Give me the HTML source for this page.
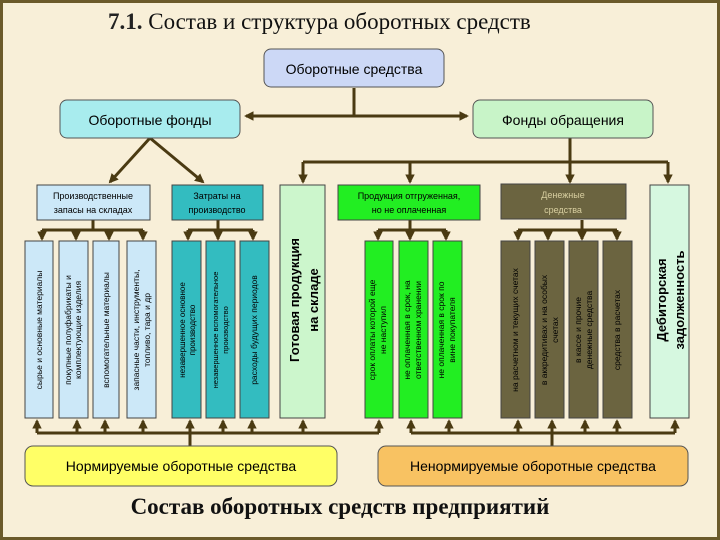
<!DOCTYPE html>
<html><head><meta charset="utf-8"><style>
html,body{margin:0;padding:0;background:#f8efd8;}
svg{display:block;}
text{font-family:"Liberation Sans","DejaVu Sans",sans-serif;}
</style></head><body>
<svg width="720" height="540" viewBox="0 0 720 540" xmlns="http://www.w3.org/2000/svg">
<defs>
<marker id="a" viewBox="0 0 10 10" refX="8" refY="5" markerWidth="3.2" markerHeight="3.2" orient="auto"><path d="M0,0L10,5L0,10z" fill="#4a3a12"/></marker>
</defs>
<rect x="0" y="0" width="720" height="540" fill="#f8efd8"/>
<rect x="1.5" y="1.5" width="717" height="537" fill="none" stroke="#6b5a2a" stroke-width="3"/>
<text x="108" y="29" font-size="23" fill="#111" style="font-family:'Liberation Serif',serif"><tspan font-weight="bold" fill="#222">7.1.</tspan> Состав и структура оборотных средств</text>

<g stroke="#4a3a12" stroke-width="3" fill="none">
<line x1="354" y1="88" x2="354" y2="116"/>
<line x1="354" y1="116" x2="246" y2="116" marker-end="url(#a)"/>
<line x1="354" y1="116" x2="467" y2="116" marker-end="url(#a)"/>
<line x1="150" y1="138" x2="110" y2="182" marker-end="url(#a)"/>
<line x1="150" y1="138" x2="203" y2="182" marker-end="url(#a)"/>
<line x1="570" y1="138" x2="570" y2="182" marker-end="url(#a)"/>
<line x1="303" y1="162" x2="668" y2="162"/>
<line x1="303" y1="162" x2="303" y2="182" marker-end="url(#a)"/>
<line x1="410" y1="162" x2="410" y2="182" marker-end="url(#a)"/>
<line x1="668" y1="162" x2="668" y2="182" marker-end="url(#a)"/>
<line x1="93" y1="220" x2="93" y2="230"/><line x1="42" y1="230" x2="143" y2="230"/>
<line x1="42" y1="230" x2="42" y2="239" marker-end="url(#a)"/><line x1="76" y1="230" x2="76" y2="239" marker-end="url(#a)"/><line x1="109" y1="230" x2="109" y2="239" marker-end="url(#a)"/><line x1="143" y1="230" x2="143" y2="239" marker-end="url(#a)"/>
<line x1="218" y1="220" x2="218" y2="230"/><line x1="188" y1="230" x2="253" y2="230"/>
<line x1="188" y1="230" x2="188" y2="239" marker-end="url(#a)"/><line x1="218" y1="230" x2="218" y2="239" marker-end="url(#a)"/><line x1="253" y1="230" x2="253" y2="239" marker-end="url(#a)"/>
<line x1="410" y1="220" x2="410" y2="230"/><line x1="378" y1="230" x2="446" y2="230"/>
<line x1="378" y1="230" x2="378" y2="239" marker-end="url(#a)"/><line x1="410" y1="230" x2="410" y2="239" marker-end="url(#a)"/><line x1="446" y1="230" x2="446" y2="239" marker-end="url(#a)"/>
<line x1="582" y1="220" x2="582" y2="230"/><line x1="518" y1="230" x2="617" y2="230"/>
<line x1="518" y1="230" x2="518" y2="239" marker-end="url(#a)"/><line x1="548" y1="230" x2="548" y2="239" marker-end="url(#a)"/><line x1="582" y1="230" x2="582" y2="239" marker-end="url(#a)"/><line x1="617" y1="230" x2="617" y2="239" marker-end="url(#a)"/>
<line x1="37" y1="433" x2="379" y2="433"/><line x1="190" y1="433" x2="190" y2="446"/>
<line x1="411" y1="433" x2="675" y2="433"/><line x1="552" y1="433" x2="552" y2="446"/>
</g>
<g stroke="#4a3a12" stroke-width="3">
<line x1="37" y1="433" x2="37" y2="421" marker-end="url(#a)"/><line x1="77" y1="433" x2="77" y2="421" marker-end="url(#a)"/><line x1="105" y1="433" x2="105" y2="421" marker-end="url(#a)"/><line x1="143" y1="433" x2="143" y2="421" marker-end="url(#a)"/><line x1="190" y1="433" x2="190" y2="421" marker-end="url(#a)"/><line x1="223" y1="433" x2="223" y2="421" marker-end="url(#a)"/><line x1="252" y1="433" x2="252" y2="421" marker-end="url(#a)"/><line x1="303" y1="433" x2="303" y2="421" marker-end="url(#a)"/><line x1="379" y1="433" x2="379" y2="421" marker-end="url(#a)"/>
<line x1="411" y1="433" x2="411" y2="421" marker-end="url(#a)"/><line x1="449" y1="433" x2="449" y2="421" marker-end="url(#a)"/><line x1="518" y1="433" x2="518" y2="421" marker-end="url(#a)"/><line x1="552" y1="433" x2="552" y2="421" marker-end="url(#a)"/><line x1="585" y1="433" x2="585" y2="421" marker-end="url(#a)"/><line x1="617" y1="433" x2="617" y2="421" marker-end="url(#a)"/><line x1="675" y1="433" x2="675" y2="421" marker-end="url(#a)"/>
</g>

<rect x="264" y="49" width="180" height="38" rx="7" fill="#ccd8f6" stroke="#555" stroke-width="1"/>
<text x="354" y="74" text-anchor="middle" font-size="14">Оборотные средства</text>
<rect x="60" y="100" width="180" height="38" rx="7" fill="#a8ecee" stroke="#555"/>
<text x="150" y="125" text-anchor="middle" font-size="14">Оборотные фонды</text>
<rect x="473" y="100" width="180" height="38" rx="7" fill="#c8f4c8" stroke="#555"/>
<text x="563" y="125" text-anchor="middle" font-size="14">Фонды обращения</text>

<g stroke="#444" stroke-width="1">
<rect x="37" y="185" width="113" height="35" fill="#cce8f8"/>
<rect x="172" y="185" width="91" height="35" fill="#33bcc0"/>
<rect x="280" y="185" width="45" height="233" fill="#ccf6cc"/>
<rect x="338" y="185" width="142" height="35" fill="#22ee22"/>
<rect x="501" y="184" width="125" height="35" fill="#6b6440"/>
<rect x="650" y="185" width="39" height="233" fill="#d6f8e0"/>
<rect x="25" y="241" width="28" height="177" fill="#cce8f8"/><rect x="59" y="241" width="29" height="177" fill="#cce8f8"/><rect x="93" y="241" width="26" height="177" fill="#cce8f8"/><rect x="127" y="241" width="29" height="177" fill="#cce8f8"/>
<rect x="172" y="241" width="29" height="177" fill="#33bcc0"/><rect x="206" y="241" width="29" height="177" fill="#33bcc0"/><rect x="240" y="241" width="29" height="177" fill="#33bcc0"/>
<rect x="365" y="241" width="28" height="177" fill="#22ee22"/><rect x="399" y="241" width="29" height="177" fill="#22ee22"/><rect x="433" y="241" width="29" height="177" fill="#22ee22"/>
<rect x="501" y="241" width="29" height="177" fill="#6b6440"/><rect x="535" y="241" width="29" height="177" fill="#6b6440"/><rect x="569" y="241" width="29" height="177" fill="#6b6440"/><rect x="603" y="241" width="29" height="177" fill="#6b6440"/>
</g>
<g font-size="9" text-anchor="middle">
<text x="93" y="199">Производственные</text><text x="93" y="213">запасы на складах</text>
<text x="217" y="199">Затраты на</text><text x="217" y="213">производство</text>
<text x="409" y="199">Продукция отгруженная,</text><text x="409" y="213">но не оплаченная</text>
<text x="563" y="198" fill="#d8cfa0">Денежные</text><text x="563" y="213" fill="#d8cfa0">средства</text>
</g>
<g font-size="8.5" text-anchor="middle">
<text transform="translate(42,330) rotate(-90)">сырье и основные материалы</text>
<text transform="translate(71,330) rotate(-90)">покупные полуфабрикаты и</text>
<text transform="translate(81,330) rotate(-90)">комплектующие изделия</text>
<text transform="translate(109,330) rotate(-90)">вспомогательные материалы</text>
<text transform="translate(139,330) rotate(-90)">запасные части, инструменты,</text>
<text transform="translate(150,330) rotate(-90)">топливо, тара и др</text>
<text transform="translate(185,330) rotate(-90)" font-size="8">незавершенное основное</text>
<text transform="translate(195,330) rotate(-90)" font-size="8">производство</text>
<text transform="translate(218,330) rotate(-90)" font-size="7.5">незавершенное вспомогательное</text>
<text transform="translate(228,330) rotate(-90)" font-size="7.5">производство</text>
<text transform="translate(257,330) rotate(-90)">расходы будущих периодов</text>
<text transform="translate(299,300) rotate(-90)" font-size="13" font-weight="bold">Готовая продукция</text>
<text transform="translate(318,300) rotate(-90)" font-size="13" font-weight="bold">на складе</text>
<text transform="translate(375,330) rotate(-90)">срок оплаты которой еще</text>
<text transform="translate(386,330) rotate(-90)">не наступил</text>
<text transform="translate(410,330) rotate(-90)">не оплаченная в срок, на</text>
<text transform="translate(421,330) rotate(-90)">ответственном хранении</text>
<text transform="translate(444,330) rotate(-90)">не оплаченная в срок по</text>
<text transform="translate(455,330) rotate(-90)">вине покупателя</text>
<text transform="translate(518,330) rotate(-90)">на расчетном и текущих счетах</text>
<text transform="translate(547,330) rotate(-90)">в аккредитивах и на особых</text>
<text transform="translate(558,330) rotate(-90)">счетах</text>
<text transform="translate(581,330) rotate(-90)">в кассе и прочие</text>
<text transform="translate(592,330) rotate(-90)">денежные средства</text>
<text transform="translate(620,330) rotate(-90)">средства в расчетах</text>
<text transform="translate(666,300) rotate(-90)" font-size="13" font-weight="bold">Дебиторская</text>
<text transform="translate(684,300) rotate(-90)" font-size="13" font-weight="bold">задолженность</text>
</g>

<rect x="25" y="446" width="312" height="40" rx="8" fill="#ffff66" stroke="#555"/>
<text x="181" y="471" text-anchor="middle" font-size="14">Нормируемые оборотные средства</text>
<rect x="378" y="446" width="310" height="40" rx="8" fill="#f8c262" stroke="#555"/>
<text x="533" y="471" text-anchor="middle" font-size="14">Ненормируемые оборотные средства</text>
<text x="340" y="514" text-anchor="middle" font-size="23" font-weight="bold" style="font-family:'Liberation Serif',serif" fill="#111">Состав оборотных средств предприятий</text>
</svg>
</body></html>
